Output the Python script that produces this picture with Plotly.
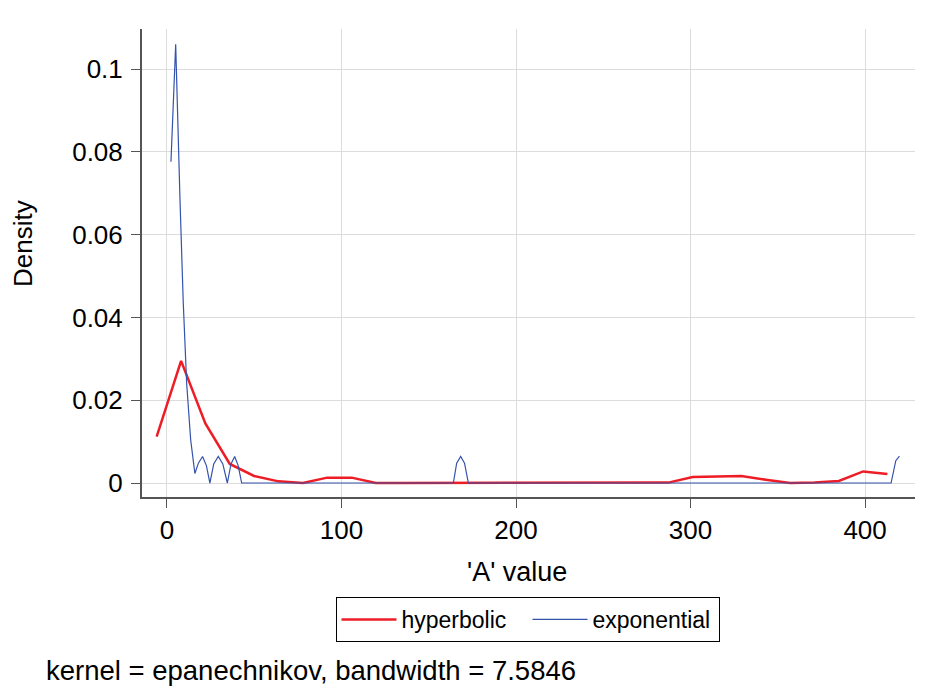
import plotly.graph_objects as go

# ---- data ----
hyper_x = [-5.9, 8.1, 22.0, 36.0, 49.9, 63.9, 77.9, 91.8, 105.8, 119.7, 133.7,
           147.7, 161.6, 175.6, 189.5, 203.5, 217.5, 231.4, 245.4, 259.3, 273.3,
           287.3, 301.2, 315.2, 329.1, 343.1, 357.1, 371.0, 385.0, 398.9, 412.8]
hyper_y = [0.0112, 0.0295, 0.0144, 0.0046, 0.0017, 0.0004, 0.0, 0.0013, 0.0013, 0.0, 0.0,
           0.0, 0.0, 0.0, 0.0, 0.0, 0.0, 0.0, 0.0, 0.0, 0.0,
           0.0001, 0.00145, 0.0016, 0.0017, 0.0008, 0.0, 0.0001, 0.0005, 0.0028, 0.0022]

expo_x = [2.3, 5.0, 7.5, 9.3, 11.3, 13.6, 16.0, 18.0, 20.4, 22.6, 24.6, 26.8, 29.4,
          32.0, 34.6, 36.7, 38.8, 40.8, 42.8, 164.1, 166.0, 168.3, 170.5, 172.7,
          414.9, 417.6, 419.7]
expo_y = [0.0776, 0.106, 0.068, 0.044, 0.024, 0.0104, 0.0023, 0.0048, 0.0064, 0.0042,
          0.0, 0.0046, 0.0064, 0.0046, 0.0, 0.0046, 0.0064, 0.0042, 0.0, 0.0,
          0.0048, 0.0064, 0.0048, 0.0, 0.0, 0.0054, 0.0065]

x_ticks = [0, 100, 200, 300, 400]
y_ticks = [0, 0.02, 0.04, 0.06, 0.08, 0.1]
y_tick_labels = ["0", "0.02", "0.04", "0.06", "0.08", "0.1"]

x_title = "'A' value"
y_title = "Density"
note = "kernel = epanechnikov, bandwidth = 7.5846"

FONT = "Liberation Sans, Arial, sans-serif"

# page body has an 8px margin; figure sized so the whole page is 929x687
OFF = 8
W, H = 921, 679
ML, MR, MT, MB = 134, 14, 21, 190
PW, PH = W - ML - MR, H - MT - MB


def px(xp):  # page x -> paper x
    return (xp - OFF - ML) / PW


def py(yp):  # page y -> paper y
    return (MT + PH - (yp - OFF)) / PH


fig = go.Figure()
fig.add_trace(go.Scatter(x=hyper_x, y=hyper_y, mode="lines", name="hyperbolic",
                         line=dict(color="#ee1c25", width=2.5)))
fig.add_trace(go.Scatter(x=expo_x, y=expo_y, mode="lines", name="exponential",
                         line=dict(color="#3553ac", width=1.2)))

fig.update_layout(
    width=W, height=H,
    paper_bgcolor="white", plot_bgcolor="white",
    margin=dict(l=ML, r=MR, t=MT, b=MB, autoexpand=False),
    font=dict(family=FONT, size=27, color="black"),
    showlegend=True,
    legend=dict(orientation="h", x=px(527.5), y=py(597),
                xanchor="center", yanchor="top",
                bordercolor="black", borderwidth=1, font=dict(size=23),
                bgcolor="white", itemwidth=55,
                entrywidth=121, entrywidthmode="pixels"),
    annotations=[
        dict(text=note, xref="paper", yref="paper", x=px(45), y=py(670),
             xanchor="left", yanchor="middle", showarrow=False, borderpad=0,
             font=dict(size=27.5, family=FONT, color="black")),
        dict(text=x_title, xref="paper", yref="paper", x=px(517), y=py(572),
             xanchor="center", yanchor="middle", showarrow=False,
             font=dict(size=27, family=FONT, color="black")),
        dict(text=y_title, xref="paper", yref="paper", x=px(23), y=py(244),
             xanchor="center", yanchor="middle", showarrow=False, textangle=-90,
             font=dict(size=26, family=FONT, color="black")),
    ],
)

fig.update_xaxes(
    range=[-14.3, 428.6], tickvals=x_ticks, ticktext=[str(v) for v in x_ticks],
    showgrid=True, gridcolor="#dcdcdc", gridwidth=1, zeroline=False,
    showline=True, linecolor="#555555", linewidth=2,
    ticks="outside", ticklen=9, tickcolor="#555555", tickwidth=1,
    tickfont=dict(size=26),
)
fig.update_yaxes(
    range=[-0.00338, 0.1097], tickvals=y_ticks, ticktext=y_tick_labels,
    showgrid=True, gridcolor="#dcdcdc", gridwidth=1, zeroline=False,
    showline=True, linecolor="#555555", linewidth=2,
    ticks="outside", ticklen=9, tickcolor="#555555", tickwidth=1,
    tickfont=dict(size=26), ticklabelstandoff=3,
)

fig.write_html("out.html")
